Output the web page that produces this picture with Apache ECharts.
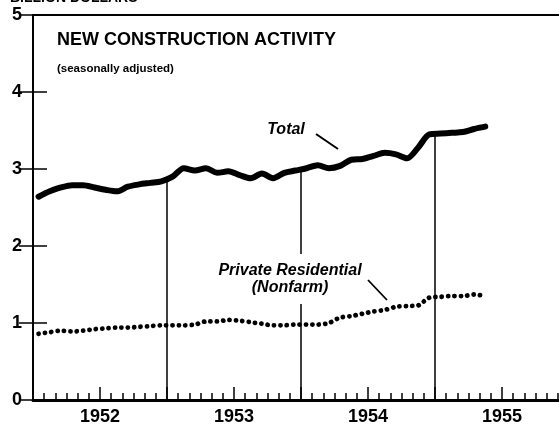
<!DOCTYPE html>
<html>
<head>
<meta charset="utf-8">
<script src="https://cdn.jsdelivr.net/npm/echarts@6/dist/echarts.min.js"></script>
<style>
  html, body { margin: 0; padding: 0; background: #fff; }
  #chart { width: 559px; height: 425px; }
</style>
</head>
<body>
<div id="chart"></div>
<script>
// monthly values, Jan 1952 .. May 1955 (billion dollars)
const yearLabels = ['1952', '1953', '1954', '1955']
const yTicks = [0, 1, 2, 3, 4, 5]
const total = [
  2.64, 2.71, 2.76, 2.79, 2.79, 2.76, 2.73, 2.71, 2.77, 2.80, 2.82, 2.84,
  2.90, 3.01, 2.98, 3.01, 2.95, 2.97, 2.92, 2.88, 2.94, 2.88, 2.95, 2.98,
  3.01, 3.05, 3.01, 3.04, 3.12, 3.13, 3.17, 3.21, 3.19, 3.14, 3.28, 3.45,
  3.46, 3.47, 3.48, 3.52, 3.55
]
const privateRes = [
  0.86, 0.88, 0.90, 0.89, 0.90, 0.92, 0.93, 0.94, 0.94, 0.95, 0.96, 0.97,
  0.97, 0.97, 0.98, 1.02, 1.02, 1.04, 1.03, 1.01, 0.99, 0.97, 0.97, 0.98,
  0.98, 0.98, 1.00, 1.07, 1.09, 1.12, 1.15, 1.17, 1.21, 1.22, 1.23, 1.33,
  1.34, 1.35, 1.35, 1.37, 1.35
]

const chart = echarts.init(document.getElementById('chart'))
const txtFont = 'Liberation Sans'

// x is month index, each month centred at i + 0.5
const toPoints = arr => arr.map((v, i) => [i + 0.5, v])

// vertical lines at the year boundaries, up to the Total curve
const yearLines = []
for (let m = 12; m < total.length; m += 12) {
  const top = (total[m - 1] + total[m]) / 2
  yearLines.push([{ coord: [m, 0] }, { coord: [m, top] }])
}

const option = {
  animation: false,
  backgroundColor: '#fff',
  grid: { left: 33, top: 15, right: -10, bottom: 25, outerBoundsMode: 'none', containLabel: false },
  xAxis: [
    {
      type: 'value', min: 0, max: 48, interval: 1,
      axisLine: { lineStyle: { color: '#000', width: 3 } },
      axisTick: { inside: true, length: 7, lineStyle: { color: '#000', width: 1.5 } },
      axisLabel: { show: false },
      splitLine: { show: false }
    },
    {
      type: 'value', min: 0, max: 48, interval: 6, position: 'bottom',
      axisLine: { show: false },
      axisTick: { inside: true, length: 13, lineStyle: { color: '#000', width: 1.5 } },
      axisLabel: {
        color: '#000', fontFamily: txtFont, fontWeight: 'bold', fontSize: 18, margin: 8,
        formatter: v => (v % 12 === 6 ? yearLabels[(v - 6) / 12] : '')
      },
      splitLine: { show: false }
    },
    {
      type: 'value', min: 0, max: 48, position: 'top',
      axisLine: { lineStyle: { color: '#000', width: 2 } },
      axisTick: { show: false },
      axisLabel: { show: false },
      splitLine: { show: false }
    }
  ],
  yAxis: [
    {
      type: 'value', min: yTicks[0], max: yTicks[yTicks.length - 1], interval: 1,
      axisLine: { show: true, lineStyle: { color: '#000', width: 2 } },
      axisTick: { show: true, inside: true, length: 14, lineStyle: { color: '#000', width: 1.5 } },
      axisLabel: { color: '#000', fontFamily: txtFont, fontWeight: 'bold', fontSize: 18, margin: 11 },
      splitLine: { show: false }
    },
    {
      type: 'value', min: yTicks[0], max: yTicks[yTicks.length - 1], interval: 1, position: 'right',
      axisLine: { show: true, lineStyle: { color: '#000', width: 2 } },
      axisTick: { show: true, inside: true, length: 14, lineStyle: { color: '#000', width: 1.5 } },
      axisLabel: { show: false },
      splitLine: { show: false }
    }
  ],
  series: [
    {
      name: 'Total',
      type: 'line',
      data: toPoints(total),
      smooth: 0.3,
      showSymbol: false,
      lineStyle: { color: '#000', width: 6, cap: 'round', join: 'round' },
      markLine: {
        silent: true,
        symbol: 'none',
        label: { show: false },
        lineStyle: { color: '#000', width: 1.5, type: 'solid' },
        data: yearLines
      },
      z: 3
    },
    {
      name: 'Private Residential (Nonfarm)',
      type: 'line',
      data: toPoints(privateRes),
      smooth: 0.3,
      showSymbol: false,
      lineStyle: { color: '#000', width: 4.8, type: [0.1, 6.3], cap: 'round' },
      z: 3
    }
  ],
  graphic: [
    {
      type: 'text', left: 10, top: -9, z: 100,
      style: { text: 'BILLION DOLLARS', fill: '#000', font: 'bold 14px ' + txtFont }
    },
    {
      type: 'text', left: 57, top: 31, z: 100,
      style: { text: 'NEW CONSTRUCTION ACTIVITY', fill: '#000', font: 'bold 18px ' + txtFont }
    },
    {
      type: 'text', left: 57, top: 63, z: 100,
      style: { text: '(seasonally adjusted)', fill: '#000', font: 'bold 11.5px ' + txtFont }
    },
    {
      type: 'text', x: 286, y: 130, z: 100,
      style: {
        text: 'Total', fill: '#000', font: 'italic bold 16px ' + txtFont,
        align: 'center', verticalAlign: 'middle'
      }
    },
    {
      type: 'line', z: 100,
      shape: { x1: 316, y1: 134, x2: 338, y2: 149 },
      style: { stroke: '#000', lineWidth: 2 }
    },
    {
      type: 'text', x: 290, y: 279, z: 100,
      style: {
        text: 'Private Residential\n(Nonfarm)', fill: '#000', font: 'italic bold 16px ' + txtFont,
        align: 'center', verticalAlign: 'middle', lineHeight: 17,
        backgroundColor: '#fff', padding: [8, 2]
      }
    },
    {
      type: 'line', z: 100,
      shape: { x1: 368, y1: 280, x2: 387, y2: 300 },
      style: { stroke: '#000', lineWidth: 1.8 }
    }
  ]
}

chart.setOption(option)
</script>
</body>
</html>
